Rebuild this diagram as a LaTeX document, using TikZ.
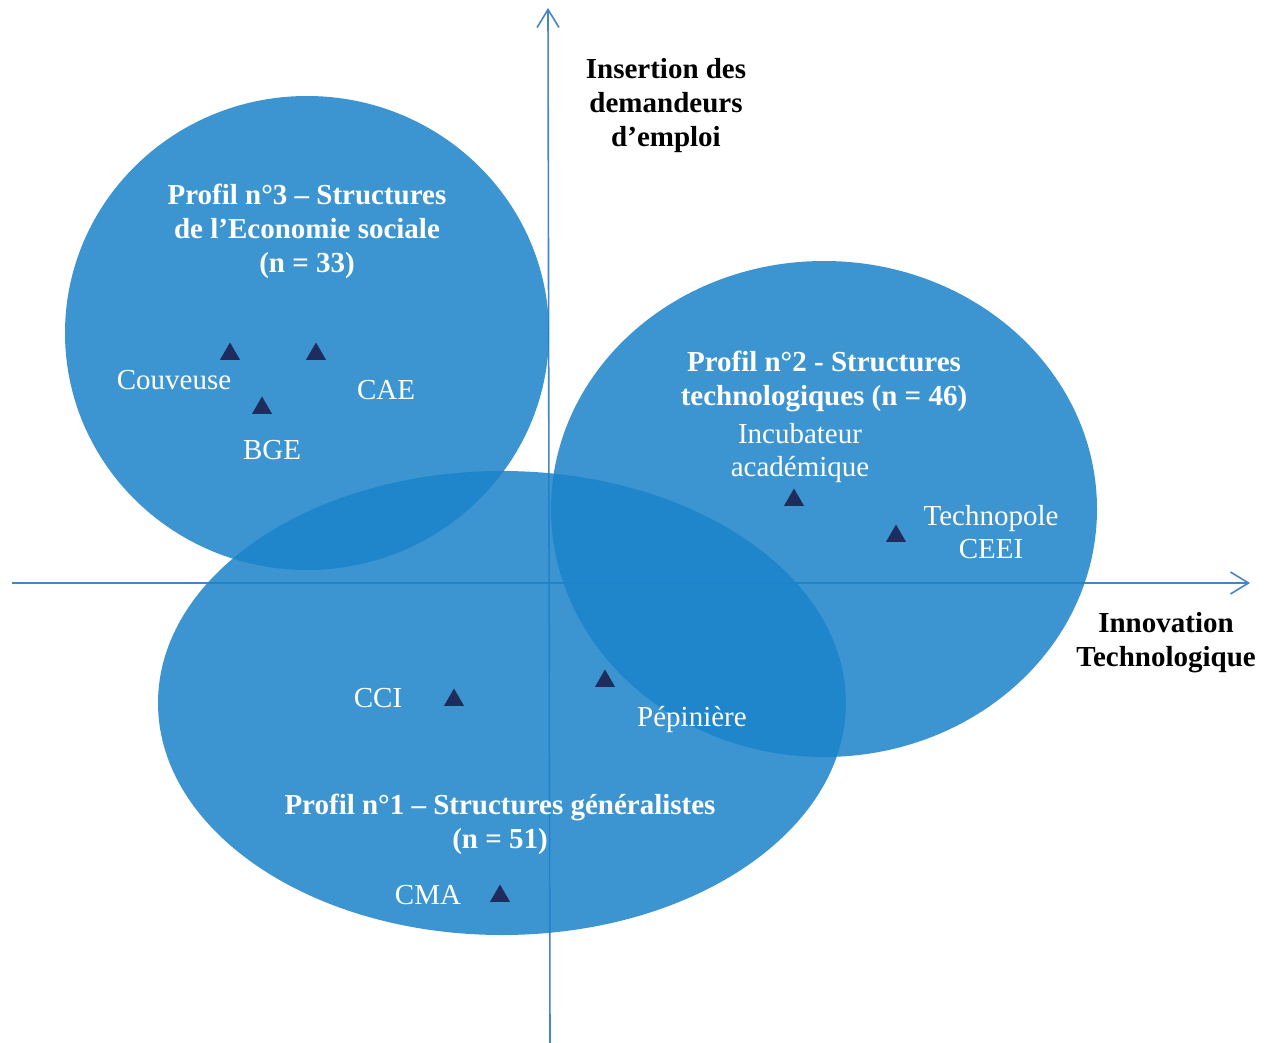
\documentclass[tikz,border=0pt]{standalone}
\usepackage{fontspec}
\setmainfont{Liberation Serif}
\usetikzlibrary{arrows.meta,shapes.geometric}
\definecolor{blobblue}{RGB}{28,132,202}
\definecolor{axisblue}{RGB}{70,132,202}
\definecolor{marknavy}{RGB}{31,45,94}
\begin{document}
\begin{tikzpicture}[x=1pt,y=-1pt,
  blob/.style={fill=blobblue,fill opacity=0.86},
  axisline/.style={draw=axisblue,line width=1.6pt,-{Straight Barb[length=18pt,width=22pt,line width=1.6pt]}},
  tri/.style={regular polygon,regular polygon sides=3,fill=marknavy,minimum size=23pt,inner sep=0pt},
  lbl/.style={text=white,font=\fontsize{29}{33}\selectfont,align=center,inner sep=0pt},
  ttl/.style={text=white,font=\fontsize{29}{34}\selectfont\bfseries,align=center,inner sep=0pt},
  axlbl/.style={text=black,font=\fontsize{29}{34}\selectfont\bfseries,align=center,inner sep=0pt}]
\useasboundingbox (0,0) rectangle (1275,1043);

% axes
\coordinate (xs) at (12,583);
\coordinate (xe) at (1250,583);
\coordinate (ys) at (550,1043);
\coordinate (ye) at (548,8);
\draw[axisline] (xs) -- (xe);
\draw[axisline] (ys) -- (ye);

% profiles
\fill[blob] (307,333) ellipse [x radius=242pt, y radius=237pt];
\fill[blob] (824,509) ellipse [x radius=273pt, y radius=248pt];
\fill[blob] (502,703) ellipse [x radius=344pt, y radius=232pt];

% titles
\node[ttl] (p3) at (307,231) {Profil n°3 – Structures\\de l’Economie sociale\\(n = 33)};
\node[ttl] (p2) at (824,381) {Profil n°2 - Structures\\technologiques (n = 46)};
\node[ttl] (p1) at (500,824) {Profil n°1 – Structures généralistes\\(n = 51)};

% axis labels
\node[axlbl] (ylab) at (666,106) {Insertion des\\demandeurs\\d’emploi};
\node[axlbl] (xlab) at (1166,643) {Innovation\\Technologique};

% markers
\node[tri] (tcouv) at (230,354) {};
\node[tri] (tcae) at (316,354) {};
\node[tri] (tbge) at (262,408) {};
\node[tri] (tinc) at (794,500) {};
\node[tri] (ttec) at (896,536) {};
\node[tri] (tcci) at (454,700) {};
\node[tri] (tpep) at (605,681) {};
\node[tri] (tcma) at (500,896) {};

% labels
\node[lbl,anchor=base] (lcouv) at (174,389) {Couveuse};
\node[lbl,anchor=base] (lcae) at (386,399) {CAE};
\node[lbl,anchor=base] (lbge) at (272,459) {BGE};
\node[lbl] (linc) at (800,453) {Incubateur\\académique};
\node[lbl] (ltec) at (991,532) {Technopole\\CEEI};
\node[lbl,anchor=base] (lcci) at (378,707) {CCI};
\node[lbl,anchor=base] (lpep) at (692,726) {Pépinière};
\node[lbl,anchor=base] (lcma) at (428,904) {CMA};
\end{tikzpicture}
\end{document}
